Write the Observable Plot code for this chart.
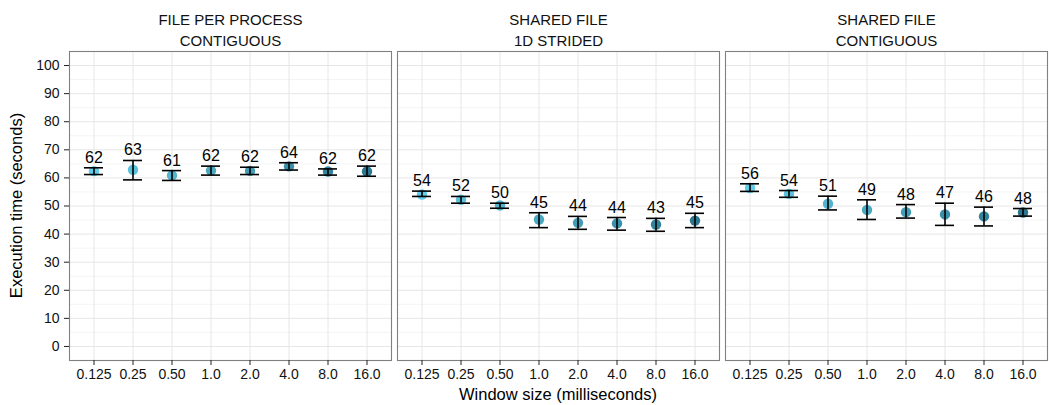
<!DOCTYPE html>
<html>
<head>
<meta charset="utf-8">
<script src="https://cdn.jsdelivr.net/npm/d3@7"></script>
<script src="https://cdn.jsdelivr.net/npm/@observablehq/plot@0.6"></script>
<style>
  html, body { margin: 0; padding: 0; background: #fff; }
  #chart svg { display: block; }
</style>
</head>
<body>
<div id="chart"></div>
<script>
// ---- data ----
const windows = ["0.125", "0.25", "0.50", "1.0", "2.0", "4.0", "8.0", "16.0"];
const panels = ["FILE PER PROCESS\nCONTIGUOUS", "SHARED FILE\n1D STRIDED", "SHARED FILE\nCONTIGUOUS"];
const yTicks = [0, 10, 20, 30, 40, 50, 60, 70, 80, 90, 100];
const yMinor = [5, 15, 25, 35, 45, 55, 65, 75, 85, 95];

const meanFPP   = [62.4, 62.9, 60.9, 62.6, 62.5, 64.1, 62.3, 62.3];
const lowerFPP  = [61.2, 59.3, 59.1, 61.0, 61.2, 62.8, 61.0, 60.6];
const upperFPP  = [63.6, 66.2, 62.6, 64.2, 63.8, 65.4, 63.2, 64.2];
const labelFPP  = [62, 63, 61, 62, 62, 64, 62, 62];

const meanS1D   = [54.1, 52.2, 50.2, 45.2, 44.0, 43.8, 43.4, 44.8];
const lowerS1D  = [53.4, 51.0, 49.2, 42.3, 41.7, 41.4, 41.0, 42.3];
const upperS1D  = [55.3, 53.4, 51.0, 47.6, 46.3, 45.9, 45.6, 47.4];
const labelS1D  = [54, 52, 50, 45, 44, 44, 43, 45];

const meanSC    = [56.4, 54.3, 50.8, 48.6, 47.8, 47.0, 46.3, 47.7];
const lowerSC   = [55.2, 53.1, 48.6, 45.2, 45.7, 43.1, 42.9, 46.4];
const upperSC   = [57.9, 55.5, 53.5, 52.2, 50.5, 51.0, 49.6, 49.1];
const labelSC   = [56, 54, 51, 49, 48, 47, 46, 48];

const series = [
  [meanFPP, lowerFPP, upperFPP, labelFPP],
  [meanS1D, lowerS1D, upperS1D, labelS1D],
  [meanSC,  lowerSC,  upperSC,  labelSC]
];

const rows = [];
panels.forEach((p, pi) => {
  const [m, lo, hi, lab] = series[pi];
  windows.forEach((w, i) => {
    rows.push({panel: p, window: w, order: i, mean: m[i], lower: lo[i], upper: hi[i], label: String(lab[i])});
  });
});

const FONT = "'Liberation Sans', Arial, Helvetica, sans-serif";
const W = 1049, H = 405;
const mL = 68, mR = 1, mT = 51, mB = 45;

const chart = Plot.plot({
  width: W,
  height: H,
  marginLeft: mL,
  marginRight: mR,
  marginTop: mT,
  marginBottom: mB,
  style: {fontFamily: FONT, background: "#fff", overflow: "visible"},
  fx: {domain: panels, padding: 0.0185, axis: null, label: null},
  x: {type: "band", domain: windows, paddingInner: 0.51, paddingOuter: 0.355, label: null},
  y: {domain: [-5, 105], label: null},
  color: {type: "linear", domain: [0, 7], range: ["#62cde8", "#2b7790"]},
  marks: [
    Plot.gridY(yMinor, {stroke: "#f4f4f4", strokeOpacity: 1, strokeWidth: 1}),
    Plot.gridY(yTicks, {stroke: "#e6e6e6", strokeOpacity: 1, strokeWidth: 1}),
    Plot.gridX({stroke: "#e6e6e6", strokeOpacity: 1, strokeWidth: 1}),
    Plot.frame({stroke: "#808080", strokeWidth: 1.1}),
    Plot.axisY(yTicks, {tickSize: 5, tickPadding: 5, fontSize: 14, fill: "#111", stroke: "#222", label: null}),
    Plot.axisX({tickSize: 5, tickPadding: 4, fontSize: 14, fill: "#111", stroke: "#222", label: null}),
    Plot.dot(rows, {fx: "panel", x: "window", y: "mean", r: 5.2, fill: "order", stroke: "none"}),
    Plot.ruleX(rows, {fx: "panel", x: "window", y1: "lower", y2: "upper", stroke: "#000", strokeWidth: 1.6}),
    Plot.tickY(rows, {fx: "panel", x: "window", y: "upper", stroke: "#000", strokeWidth: 1.6}),
    Plot.tickY(rows, {fx: "panel", x: "window", y: "lower", stroke: "#000", strokeWidth: 1.6}),
    Plot.text(rows, {fx: "panel", x: "window", y: "upper", text: "label", dy: -5, lineAnchor: "bottom", fontSize: 16, fill: "#000"}),
    Plot.text(panels, {fx: d => d, text: d => d, frameAnchor: "top", dy: -23, lineAnchor: "middle", lineHeight: 1.45, fontSize: 15, fill: "#111"})
  ]
});

document.getElementById("chart").appendChild(chart);

// axis titles (shared across facets)
const svg = d3.select(chart);
svg.append("text")
  .attr("x", (mL + (W - mR)) / 2)
  .attr("y", 400)
  .attr("text-anchor", "middle")
  .attr("font-family", FONT)
  .attr("font-size", 16.5)
  .attr("fill", "#000")
  .text("Window size (milliseconds)");
svg.append("text")
  .attr("transform", `translate(22,${(mT + (H - mB)) / 2}) rotate(-90)`)
  .attr("text-anchor", "middle")
  .attr("font-family", FONT)
  .attr("font-size", 16.5)
  .attr("fill", "#000")
  .text("Execution time (seconds)");
</script>
</body>
</html>
